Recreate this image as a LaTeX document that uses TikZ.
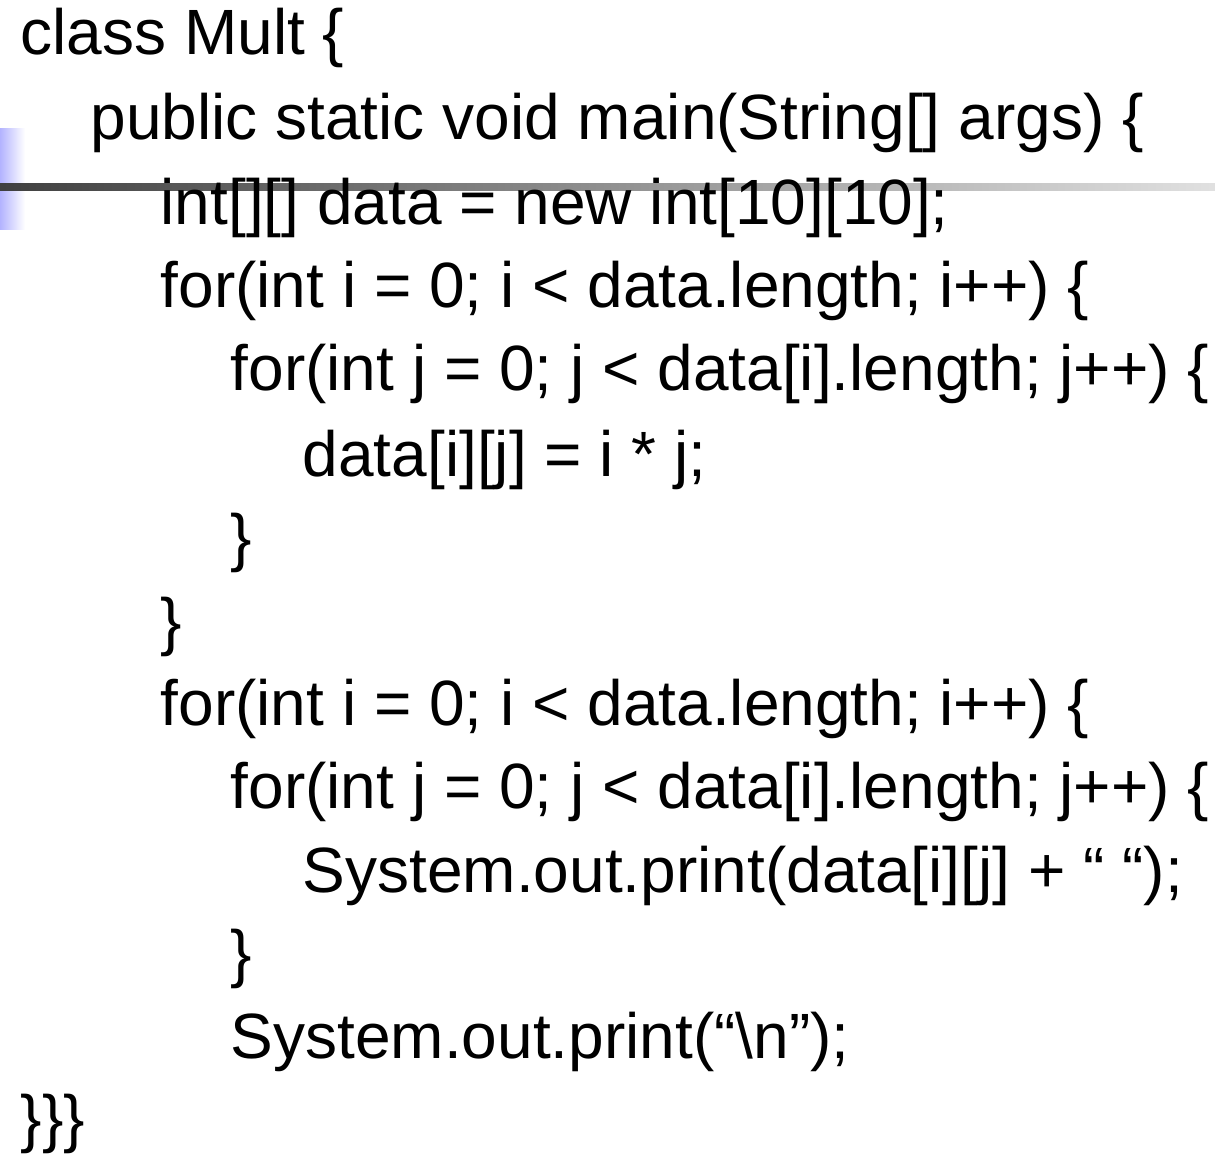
\documentclass[tikz,border=0pt]{standalone}
\usepackage{fontspec}
\setmainfont{Liberation Sans}
\usetikzlibrary{positioning}

\begin{document}
\begin{tikzpicture}[x=0.01cm,y=-0.01cm,
			codeline/.style={anchor=base west,inner sep=0pt,font=\fontsize{18.2}{20}\selectfont}]
			\useasboundingbox (0,0) rectangle (1215,1167);
			% slide decoration
			\shade [left color=blue!30!white,right color=white] (0,129) rectangle (25,230);
			\shade [left color=black!75,right color=black!12] (0,184) rectangle (1215,191);
			% program text, one node per line
			\node (l1)  [codeline] at (20,55)   {class Mult \{};
			\node (l2)  [codeline] at (90,140)  {public static void main(String[] args) \{};
			\node (l3)  [codeline] at (160,225) {int[][] data = new int[10][10];};
			\node (l4)  [codeline] at (160,308) {for(int i = 0; i < data.length; i++) \{};
			\node (l5)  [codeline] at (230,391) {for(int j = 0; j < data[i].length; j++) \{};
			\node (l6)  [codeline] at (302,476) {data[i][j] = i * j;};
			\node (l7)  [codeline] at (230,559) {\}};
			\node (l8)  [codeline] at (160,643) {\}};
			\node (l9)  [codeline] at (160,725) {for(int i = 0; i < data.length; i++) \{};
			\node (l10) [codeline] at (230,808) {for(int j = 0; j < data[i].length; j++) \{};
			\node (l11) [codeline] at (302,892) {System.out.print(data[i][j] + “ “);};
			\node (l12) [codeline] at (230,975) {\}};
			\node (l13) [codeline] at (230,1058) {System.out.print(“\textbackslash n”);};
			\node (l14) [codeline] at (20,1140) {\}\}\}};
		\end{tikzpicture}
\end{document}
